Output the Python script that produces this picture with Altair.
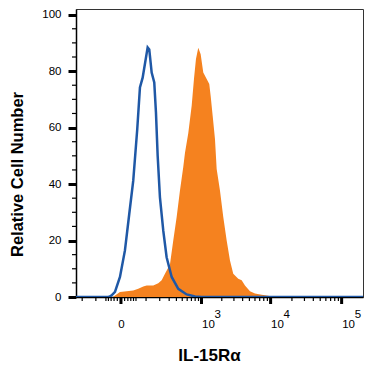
import altair as alt
import pandas as pd

# Isotype control (blue outline)
iso_x = [-262, -40, -34, -28, -17, -2.6, 11, 24.6, 39, 55.5, 67.8, 81.3, 109.6, 119.7,
         135.8, 154.7, 167.9, 182, 202, 234, 270, 332, 430, 589, 795, 1000, 199500]
iso_y = [0, 0, 0.2, 0.6, 1.8, 7.1, 16.5, 29.4, 41.2, 59.5, 74.2, 77.7, 88.4, 87.7,
         79.5, 76, 65.4, 50, 35.3, 23.5, 14.1, 7.1, 2.9, 0.9, 0.2, 0, 0]

# IL-15R alpha antibody (orange filled)
ab_x = [-23.6, -2.6, 39, 59.9, 84.5, 103.6, 147.2, 187.1, 218.1, 251.7, 309.8, 353.7,
        404.1, 458.6, 519.2, 553, 624.3, 706.2, 766.8, 823.4, 893, 971.6, 1063.7,
        1196.6, 1308.4, 1372.8, 1469.6, 1589.6, 1683.2, 1881.6, 2103, 2356.8, 2631,
        2934, 3463, 3875, 4322, 5095, 6002, 7471, 9268, 10456]
ab_y = [0, 1.8, 2.3, 2.9, 3.7, 4.1, 4.1, 4.9, 5.9, 8.2, 11.5, 20,
        28.3, 37.7, 46, 51, 58, 67.7, 77.2, 84.3, 88.3, 86, 79.5,
        77.2, 75.4, 71.2, 64.2, 56, 45.3, 37.7, 28.3, 20, 12.9,
        8.2, 6.5, 5.9, 4.1, 2, 1.2, 0.8, 0.4, 0]

x_major = [0, 1000, 10000, 100000]
x_minor = [-200, -100, -50, -40, -30, -20, -10, 10, 20, 30, 40, 50,
           100, 200, 300, 400, 500, 600, 700, 800, 900,
           2000, 3000, 4000, 5000, 6000, 7000, 8000, 9000,
           20000, 30000, 40000, 50000, 60000, 70000, 80000, 90000]
exp_values = [1000, 10000, 100000]
exp_labels = ["3", "4", "5"]
y_major = [0, 20, 40, 60, 80, 100]
y_minor = [5, 10, 15, 25, 30, 35, 45, 50, 55, 65, 70, 75, 85, 90, 95]

FONT = "Liberation Sans"
W, H = 287, 288

xscale = alt.Scale(type="symlog", constant=80, domain=[-262, 199500], nice=False)
yscale = alt.Scale(domain=[0, 102], nice=False)

iso = pd.DataFrame({"x": iso_x, "y": iso_y})
ab = pd.DataFrame({"x": ab_x, "y": ab_y})
ex = pd.DataFrame({"x": exp_values, "t": exp_labels})
xmaj = pd.DataFrame({"xv": x_major})
xmin = pd.DataFrame({"xv": x_minor})
ymin = pd.DataFrame({"yv": y_minor})

x_axis = alt.Axis(
    orient="bottom",
    values=x_major,
    title="IL-15Rα",
    titleFont=FONT, titleFontSize=17, titleFontWeight="bold", titleColor="black",
    titleX=133, titleY=63, titleBaseline="alphabetic", titleAlign="center",
    labelExpr="datum.value == 0 ? '0' : '10'",
    labelAlign={"condition": {"test": "datum.value == 0", "value": "center"}, "value": "left"},
    labelBaseline="alphabetic",
    labelFont=FONT, labelFontSize=11.5, labelColor="black",
    labelPadding=30, labelOverlap=False, labelFlush=False,
    ticks=False,
    domainColor="black", domainWidth=1.5, grid=False,
)

y_axis = alt.Axis(
    orient="left",
    values=y_major,
    title="Relative Cell Number",
    titleFont=FONT, titleFontSize=16.5, titleFontWeight="bold", titleColor="black",
    titleX=-54, titleY=165, titleBaseline="alphabetic", titleAlign="center", titleAngle=270,
    labelFont=FONT, labelFontSize=11.5, labelColor="black",
    labelPadding=7, labelOverlap=False, labelFlush=False,
    ticks=True, tickSize=8, tickWidth=3, tickColor="black",
    domainColor="black", domainWidth=1.5, grid=False,
)

area = alt.Chart(ab).mark_area(color="#f5821f", opacity=1, clip=True).encode(
    x=alt.X("x:Q", scale=xscale, axis=x_axis),
    y=alt.Y("y:Q", scale=yscale, axis=y_axis),
)

line = alt.Chart(iso).mark_line(color="#1f58a6", strokeWidth=2.5, clip=True).encode(
    x=alt.X("x:Q", scale=xscale),
    y=alt.Y("y:Q", scale=yscale),
)

xt_major = alt.Chart(xmaj).mark_tick(
    color="black", size=7, thickness=3, opacity=1, clip=False
).encode(x=alt.X("xv:Q", scale=xscale), y=alt.value(H + 3.5))
xt_minor = alt.Chart(xmin).mark_tick(
    color="black", size=4, thickness=1.2, opacity=1, clip=False
).encode(x=alt.X("xv:Q", scale=xscale), y=alt.value(H + 2))
yt_minor = alt.Chart(ymin).mark_tick(
    color="black", size=4, thickness=1.2, opacity=1, clip=False
).encode(y=alt.Y("yv:Q", scale=yscale), x=alt.value(-2))

sup = alt.Chart(ex).mark_text(
    align="left", baseline="alphabetic", dx=13, font=FONT, fontSize=11.5, color="black"
).encode(
    x=alt.X("x:Q", scale=xscale),
    y=alt.value(309),
    text="t:N",
)

chart = alt.layer(area, line, xt_major, xt_minor, yt_minor, sup).properties(
    width=W, height=H,
    padding={"left": 68, "top": 1, "right": 1, "bottom": 68},
    autosize=alt.AutoSizeParams(type="none"),
    background="white",
).configure_view(stroke="#333333", strokeWidth=1)

chart.save("out.html", embed_options={"renderer": "svg", "actions": False})
